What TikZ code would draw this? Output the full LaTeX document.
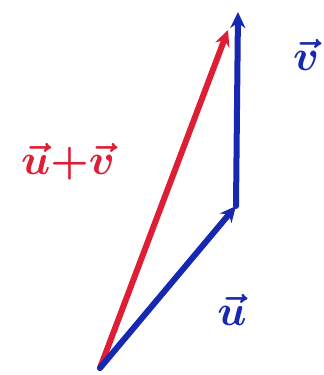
\documentclass[tikz,border=0pt]{standalone}
\usepackage{tikz}
\usetikzlibrary{arrows.meta}

\definecolor{penred}{RGB}{222,30,52}
\definecolor{penblue}{RGB}{22,40,178}

\newcommand{\penlabel}[1]{\scalebox{4.3}{\boldmath$#1$}}

\begin{document}
\begin{tikzpicture}[
  x=1pt, y=-1pt,
  vec/.style = {-{Stealth[length=16pt,width=15pt]}, line width=6pt,
                line cap=round, line join=round},
  lbl/.style = {inner sep=0pt},
]
  \useasboundingbox (0,0) rectangle (324,375);

  % ---- points -----------------------------------------------
  \coordinate (o)  at (100, 368);
  \coordinate (pu) at (236, 206);
  \coordinate (pv) at (238,  12);
  \coordinate (ps) at (228,  30);

  % ---- vectors ----------------------------------------------
  \draw[vec, draw=penred] (o) -- (ps);
  \draw[vec, draw=penblue] (o) -- (pu);
  \draw[vec, draw=penblue] (pu) -- (pv);

  % ---- labels -----------------------------------------------
  \node[lbl, text=penred]  (lsum) at ( 68, 162) {\penlabel{\vec{u}{+}\vec{v}}};
  \node[lbl, text=penblue] (lu)   at (232, 310) {\penlabel{\vec{u}}};
  \node[lbl, text=penblue] (lv)   at (306,  55) {\penlabel{\vec{v}}};

\end{tikzpicture}
\end{document}
